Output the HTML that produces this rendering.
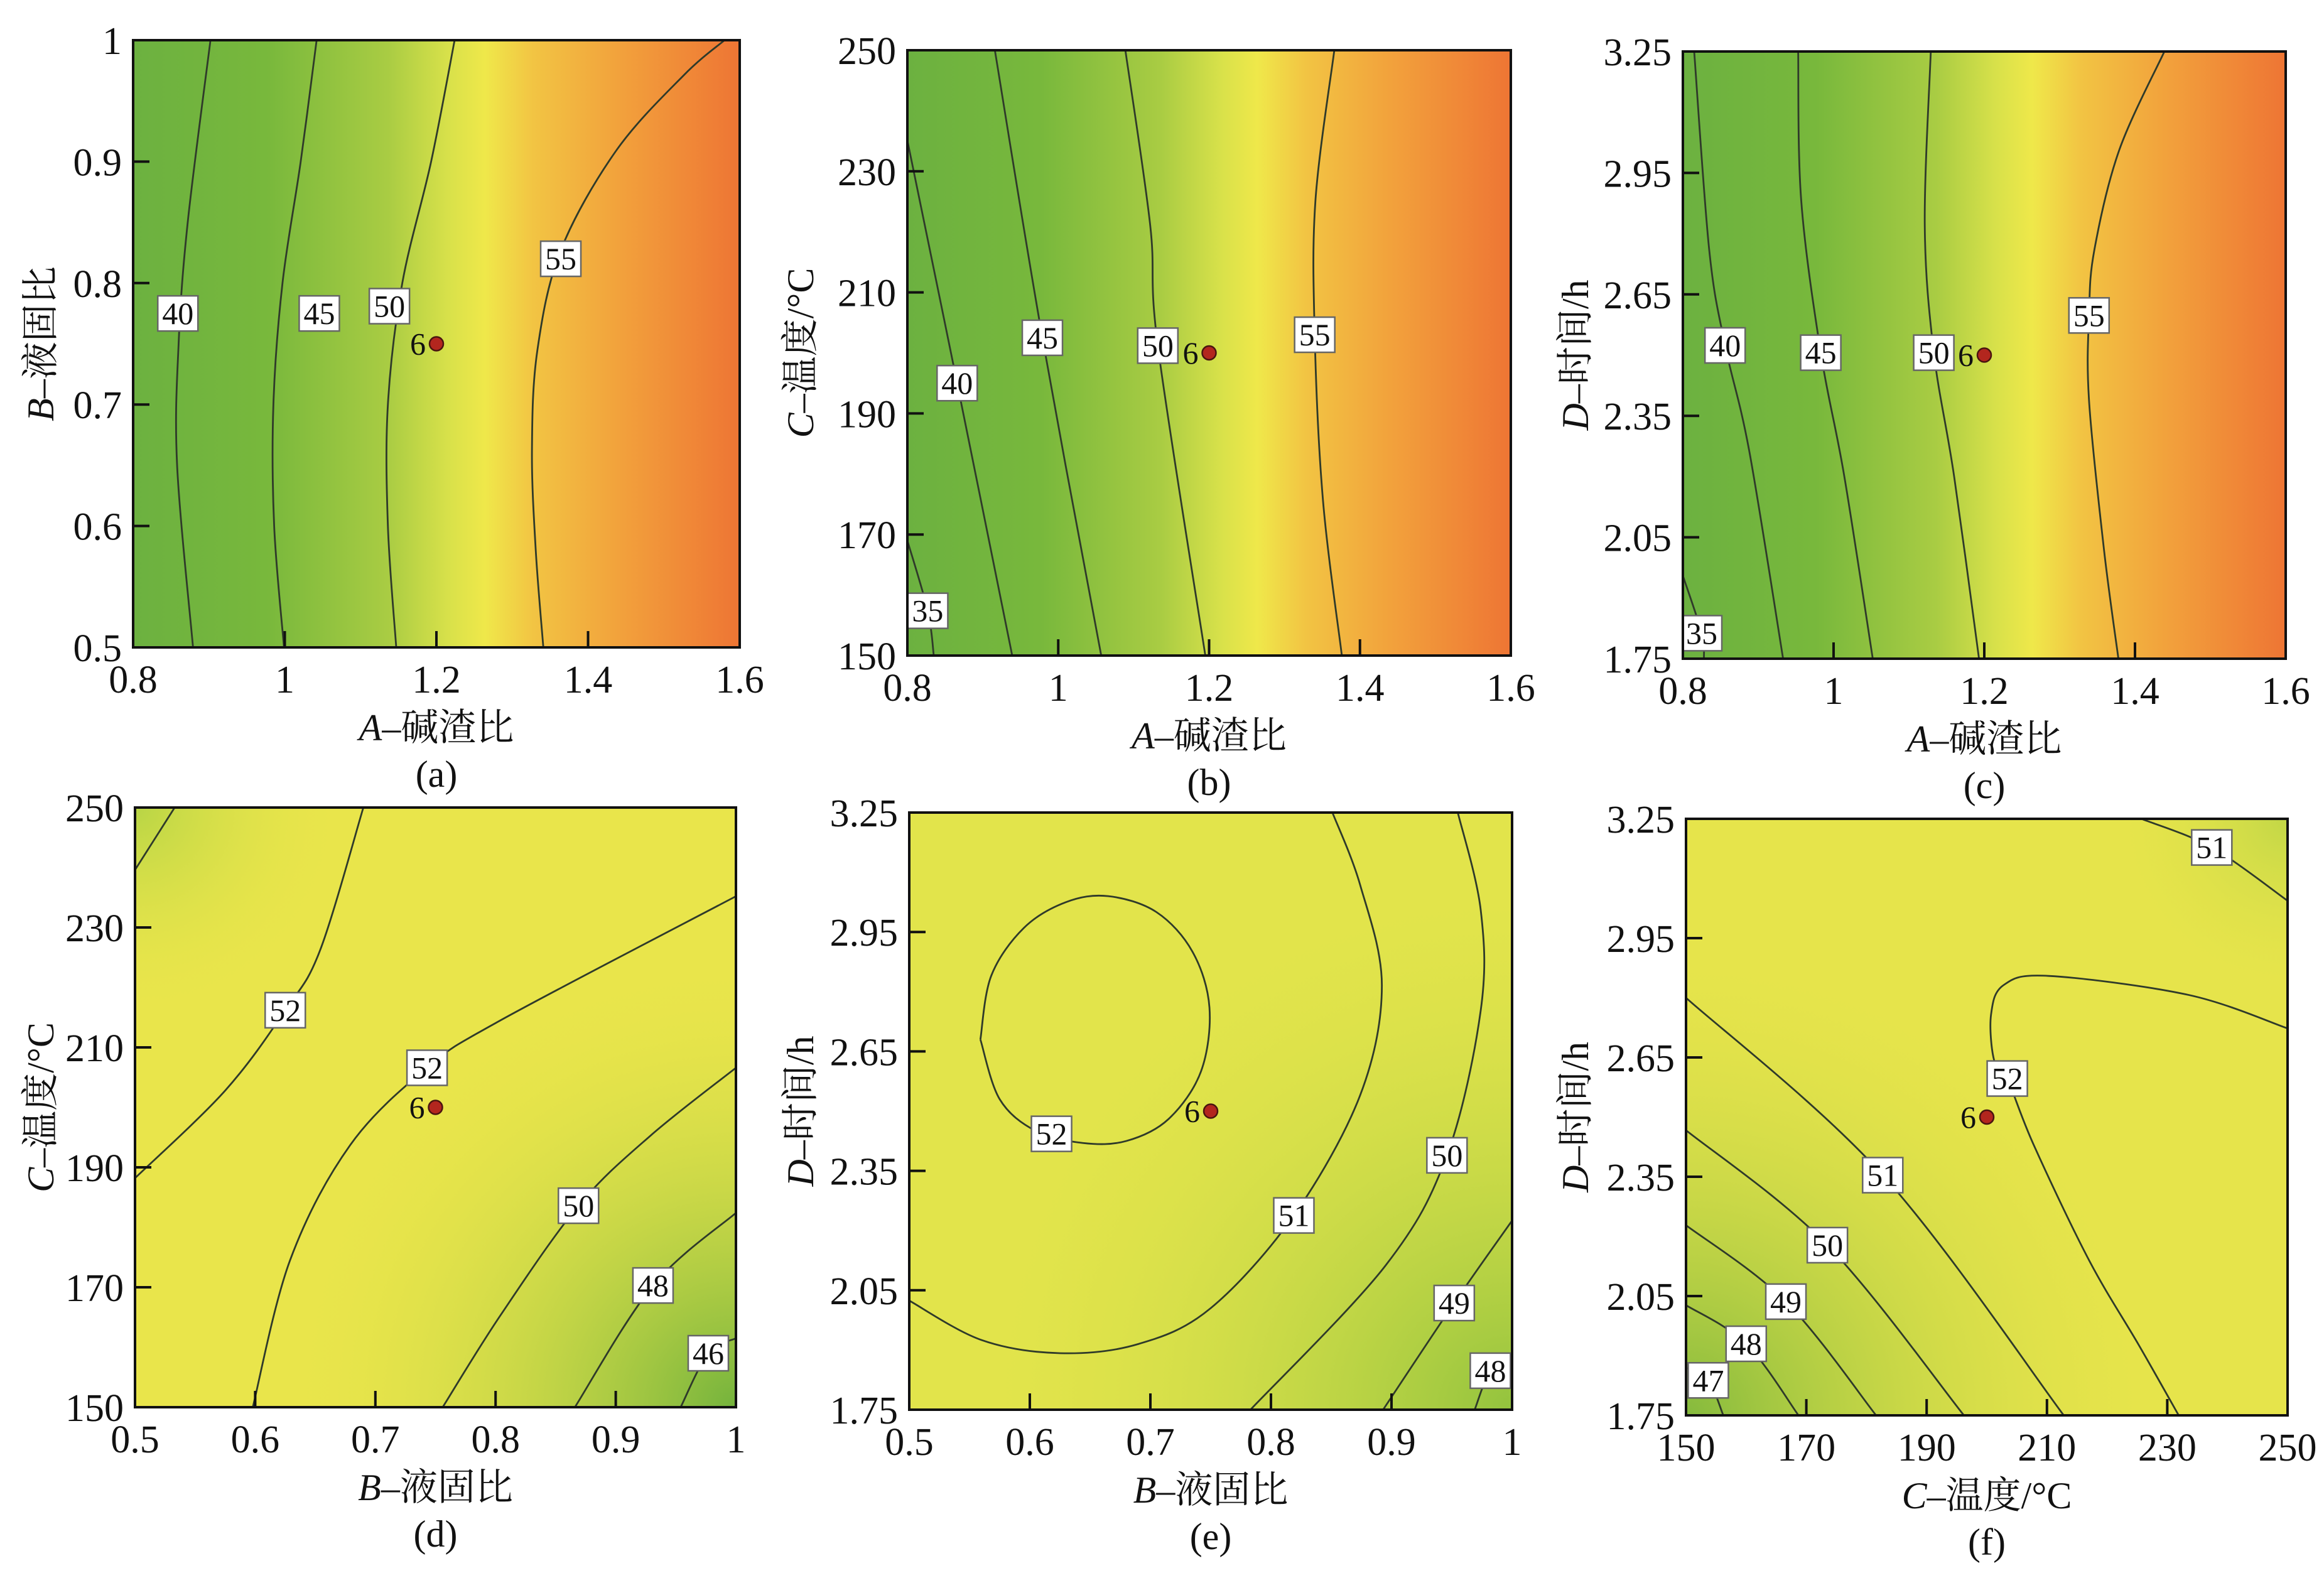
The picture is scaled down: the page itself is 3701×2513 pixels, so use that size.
<!DOCTYPE html>
<html><head><meta charset="utf-8">
<style>
html,body{margin:0;padding:0;background:#fff;}
svg{display:block;}
svg text{font-family:"Liberation Serif","Noto Serif CJK SC","Noto Sans CJK SC",serif;fill:#111;}
</style></head>
<body>
<svg id="fig" width="3701" height="2513" viewBox="0 0 3701 2513" xmlns="http://www.w3.org/2000/svg" font-family="'Liberation Serif','Noto Serif CJK SC',serif">
<defs>
<linearGradient id="gABC" x1="0" y1="0" x2="1" y2="0">
<stop offset="0" stop-color="#6cb140"/><stop offset="0.22" stop-color="#78b83c"/>
<stop offset="0.42" stop-color="#a9cc43"/><stop offset="0.52" stop-color="#d8e14a"/>
<stop offset="0.58" stop-color="#efe84a"/><stop offset="0.66" stop-color="#f2c443"/>
<stop offset="0.8" stop-color="#f2a23c"/><stop offset="1" stop-color="#ee7534"/>
</linearGradient>
<radialGradient id="gD1" cx="1" cy="1" r="0.75"><stop offset="0" stop-color="#74b33c"/><stop offset="1" stop-color="#e9e54b" stop-opacity="0"/></radialGradient>
<radialGradient id="gD2" cx="0" cy="0" r="0.35"><stop offset="0" stop-color="#b8d545"/><stop offset="1" stop-color="#e9e54b" stop-opacity="0"/></radialGradient>
<radialGradient id="gE1" cx="1" cy="1" r="0.9"><stop offset="0" stop-color="#93c33e"/><stop offset="1" stop-color="#dfe34b" stop-opacity="0"/></radialGradient>
<radialGradient id="gF1" cx="0" cy="1" r="0.8"><stop offset="0" stop-color="#85ba3d"/><stop offset="1" stop-color="#e6e44b" stop-opacity="0"/></radialGradient>
<radialGradient id="gF2" cx="1" cy="0" r="0.3"><stop offset="0" stop-color="#c2d746"/><stop offset="1" stop-color="#e6e44b" stop-opacity="0"/></radialGradient>
</defs>
</svg>
<script>
// ---------- data ----------
const panelIds = ["a","b","c","d","e","f"];
const xTicksA = [0.8,1,1.2,1.4,1.6];
const xTickLabelsA = ["0.8","1","1.2","1.4","1.6"];
const xTicksB = [0.5,0.6,0.7,0.8,0.9,1];
const xTickLabelsB = ["0.5","0.6","0.7","0.8","0.9","1"];
const xTicksC = [150,170,190,210,230,250];
const xTickLabelsC = ["150","170","190","210","230","250"];
const yTicksB = [0.5,0.6,0.7,0.8,0.9,1];
const yTickLabelsB = ["0.5","0.6","0.7","0.8","0.9","1"];
const yTicksC = [150,170,190,210,230,250];
const yTickLabelsC = ["150","170","190","210","230","250"];
const yTicksD = [1.75,2.05,2.35,2.65,2.95,3.25];
const yTickLabelsD = ["1.75","2.05","2.35","2.65","2.95","3.25"];

const contoursA = [
 [[0.902,1],[0.872,0.85],[0.86,0.75],[0.858,0.65],[0.879,0.5]],
 [[1.042,1],[1.021,0.9],[0.997,0.8],[0.985,0.7],[0.986,0.6],[0.999,0.5]],
 [[1.224,1],[1.193,0.9],[1.155,0.8],[1.136,0.7],[1.136,0.6],[1.147,0.5]],
 [[1.58,1],[1.526,0.971],[1.437,0.909],[1.364,0.827],[1.333,0.744],[1.326,0.662],[1.331,0.58],[1.341,0.5]]
];
const labelsA = [[40,0.859,0.775],[45,1.0455,0.775],[50,1.138,0.781],[55,1.364,0.82]];
const contoursB = [
 [[0.8,169],[0.827,157.4],[0.835,150]],
 [[0.8,235.1],[0.866,195],[0.939,150]],
 [[0.916,250],[0.979,202.5],[1.057,150]],
 [[1.089,250],[1.122,221],[1.132,201.2],[1.195,150]],
 [[1.366,250],[1.341,225.2],[1.34,203],[1.351,175.6],[1.376,150]]
];
const labelsB = [[35,0.827,157.4],[40,0.866,195],[45,0.979,202.5],[50,1.132,201.2],[55,1.34,203]];
const contoursC = [
 [[0.8,1.955],[0.825,1.813],[0.828,1.75]],
 [[0.815,3.25],[0.835,2.759],[0.856,2.524],[0.888,2.264],[0.933,1.75]],
 [[0.953,3.25],[0.957,2.883],[0.983,2.506],[1.014,2.203],[1.052,1.75]],
 [[1.129,3.25],[1.121,2.821],[1.133,2.506],[1.16,2.2],[1.193,1.75]],
 [[1.439,3.25],[1.379,3.006],[1.346,2.759],[1.339,2.598],[1.339,2.388],[1.359,2.017],[1.378,1.75]]
];
const labelsC = [[35,0.825,1.813],[40,0.856,2.524],[45,0.983,2.506],[50,1.133,2.506],[55,1.339,2.598]];
const contoursD = [
 [[0.5,239.6],[0.533,250]],
 [[0.69,250],[0.654,226.2],[0.625,216.2],[0.575,202.8],[0.5,188.2]],
 [[0.598,150],[0.629,174.5],[0.679,193.7],[0.743,206.6],[0.804,214.5],[1,235.2]],
 [[0.756,150],[0.804,165.3],[0.869,183.6],[0.929,195.3],[1,206.6]],
 [[0.866,150],[0.931,170.3],[1,182.4]],
 [[0.954,150],[0.977,159],[1,161.5]]
];
const labelsD = [[52,0.625,216.2],[52,0.743,206.6],[50,0.869,183.6],[48,0.931,170.3],[46,0.977,159]];
const contoursE = [
 [[0.559,2.68],[0.568,2.84],[0.595,2.96],[0.63,3.025],[0.665,3.04],[0.705,3.0],[0.735,2.9],[0.749,2.76],[0.742,2.6],[0.715,2.48],[0.68,2.425],[0.644,2.42],[0.605,2.45],[0.575,2.53],[0.559,2.68]],
 [[0.5,2.024],[0.56,1.925],[0.625,1.892],[0.69,1.915],[0.75,2.005],[0.819,2.238],[0.874,2.54],[0.892,2.816],[0.874,3.068],[0.851,3.25]],
 [[0.955,3.25],[0.974,3.005],[0.974,2.753],[0.946,2.389],[0.895,2.112],[0.783,1.75]],
 [[1,2.225],[0.952,2.018],[0.893,1.75]],
 [[1,1.886],[0.982,1.848],[0.969,1.75]]
];
const labelsE = [[52,0.618,2.443],[51,0.819,2.238],[50,0.946,2.389],[49,0.952,2.018],[48,0.982,1.848]];
const contoursF = [
 [[225.7,3.25],[237.4,3.178],[250,3.044]],
 [[250,2.723],[233.6,2.807],[210.3,2.855],[202.8,2.832],[200.7,2.757],[201.2,2.644],[203.4,2.597],[207.8,2.43],[217,2.14],[225.3,1.926],[231.9,1.75]],
 [[150,2.8],[182.7,2.354],[212.8,1.75]],
 [[150,2.467],[173.5,2.178],[196.2,1.75]],
 [[150,2.228],[166.6,2.036],[181.6,1.75]],
 [[150,2.027],[160,1.93],[168.7,1.75]],
 [[150,1.87],[153.7,1.838],[156.2,1.75]]
];
const labelsF = [[51,237.4,3.178],[52,203.4,2.597],[51,182.7,2.354],[50,173.5,2.178],[49,166.6,2.036],[48,160,1.93],[47,153.7,1.838]];
const pointX = [1.2,1.2,1.2,0.75,0.75,200];
const pointY = [0.75,200,2.5,200,2.5,2.5];

const NS="http://www.w3.org/2000/svg";
const FONT="'Liberation Serif','Noto Serif CJK SC',serif";
const svg=document.getElementById('fig');
const panels=[
 {id:"a",L:212,R:1178,T:64,B:1031,xd:[0.8,1.6],yd:[0.5,1],xt:xTicksA,xl:xTickLabelsA,yt:yTicksB,yl:yTickLabelsB,xv:"A",xn:"–碱渣比",yv:"B",yn:"–液固比",ytx:64,c:contoursA,lb:labelsA,bg:["url(#gABC)"]},
 {id:"b",L:1445,R:2406,T:80,B:1044,xd:[0.8,1.6],yd:[150,250],xt:xTicksA,xl:xTickLabelsA,yt:yTicksC,yl:yTickLabelsC,xv:"A",xn:"–碱渣比",yv:"C",yn:"–温度/°C",ytx:1274,c:contoursB,lb:labelsB,bg:["url(#gABC)"]},
 {id:"c",L:2680,R:3640,T:82,B:1049,xd:[0.8,1.6],yd:[1.75,3.25],xt:xTicksA,xl:xTickLabelsA,yt:yTicksD,yl:yTickLabelsD,xv:"A",xn:"–碱渣比",yv:"D",yn:"–时间/h",ytx:2508,c:contoursC,lb:labelsC,bg:["url(#gABC)"]},
 {id:"d",L:215,R:1172,T:1286,B:2241,xd:[0.5,1],yd:[150,250],xt:xTicksB,xl:xTickLabelsB,yt:yTicksC,yl:yTickLabelsC,xv:"B",xn:"–液固比",yv:"C",yn:"–温度/°C",ytx:64,c:contoursD,lb:labelsD,bg:["#e9e54b","url(#gD1)","url(#gD2)"]},
 {id:"e",L:1448,R:2408,T:1294,B:2245,xd:[0.5,1],yd:[1.75,3.25],xt:xTicksB,xl:xTickLabelsB,yt:yTicksD,yl:yTickLabelsD,xv:"B",xn:"–液固比",yv:"D",yn:"–时间/h",ytx:1274,c:contoursE,lb:labelsE,bg:["#e2e44b","url(#gE1)"]},
 {id:"f",L:2685,R:3643,T:1304,B:2254,xd:[150,250],yd:[1.75,3.25],xt:xTicksC,xl:xTickLabelsC,yt:yTicksD,yl:yTickLabelsD,xv:"C",xn:"–温度/°C",yv:"D",yn:"–时间/h",ytx:2508,c:contoursF,lb:labelsF,bg:["#e6e44b","url(#gF1)","url(#gF2)"]}
];
function mk(tag,attrs,parent){const e=document.createElementNS(NS,tag);for(const k in attrs)e.setAttribute(k,attrs[k]);if(tag==='text')e.setAttribute('font-family',FONT);(parent||svg).appendChild(e);return e;}
function smooth(pts){
 if(pts.length<3)return "M"+pts.map(p=>p.join(",")).join("L");
 let d="M"+pts[0][0]+","+pts[0][1];
 for(let i=0;i<pts.length-1;i++){
  const p0=pts[i-1]||pts[i],p1=pts[i],p2=pts[i+1],p3=pts[i+2]||p2;
  const c1=[p1[0]+(p2[0]-p0[0])/6,p1[1]+(p2[1]-p0[1])/6];
  const c2=[p2[0]-(p3[0]-p1[0])/6,p2[1]-(p3[1]-p1[1])/6];
  d+="C"+c1.join(",")+" "+c2.join(",")+" "+p2.join(",");
 }
 return d;
}
panels.forEach((p,pi)=>{
 const sx=v=>p.L+(v-p.xd[0])/(p.xd[1]-p.xd[0])*(p.R-p.L);
 const sy=v=>p.B-(v-p.yd[0])/(p.yd[1]-p.yd[0])*(p.B-p.T);
 const g=mk('g',{});
 
 
 const cp=mk('clipPath',{id:'clip'+p.id},g);
 mk('rect',{x:p.L,y:p.T,width:p.R-p.L,height:p.B-p.T},cp);
 p.bg.forEach(f=>{
  const r=mk('rect',{x:p.L,y:p.T,width:p.R-p.L,height:p.B-p.T,fill:f},g);
  
  
 });
 const cg=mk('g',{'clip-path':'url(#clip'+p.id+')'},g);
 p.c.forEach(line=>{
  const path=mk('path',{d:smooth(line.map(q=>[sx(q[0]),sy(q[1])])),fill:'none',stroke:'#2f3a2a','stroke-width':2.8},cg);
  
  
 });
 p.lb.forEach(l=>{
  const cx=sx(l[1]),cy=sy(l[2]);
  const lg=mk('g',{},cg);
  
  
  mk('rect',{x:cx-32,y:cy-28,width:64,height:56,fill:'#fff',stroke:'#666','stroke-width':2.5},lg);
  const t=mk('text',{x:cx,y:cy+17,'text-anchor':'middle','font-size':50},lg);
  t.textContent=String(l[0]);
 });
 const px=sx(pointX[pi]),py=sy(pointY[pi]);
 const pt=mk('circle',{cx:px,cy:py,r:11,fill:'#b3261e',stroke:'#4a1410','stroke-width':2.5},g);
 
 
 const pl=mk('text',{x:px-17,y:py+17,'text-anchor':'end','font-size':50},g);
 
 
 pl.textContent='6';
 const fr=mk('rect',{x:p.L,y:p.T,width:p.R-p.L,height:p.B-p.T,fill:'none',stroke:'#111','stroke-width':4},g);
 
 
 p.xt.forEach((v,i)=>{
  const x=sx(v);
  if(i>0&&i<p.xt.length-1)mk('line',{x1:x,y1:p.B,x2:x,y2:p.B-26,stroke:'#111','stroke-width':4},g);
  const t=mk('text',{x:x,y:p.B+72,'text-anchor':'middle','font-size':62},g);
  
  
  t.textContent=p.xl[i];
 });
 p.yt.forEach((v,i)=>{
  const y=sy(v);
  if(i>0&&i<p.yt.length-1)mk('line',{x1:p.L,y1:y,x2:p.L+26,y2:y,stroke:'#111','stroke-width':4},g);
  const t=mk('text',{x:p.L-18,y:y+22,'text-anchor':'end','font-size':62},g);
  
  
  t.textContent=p.yl[i];
 });
 const xt=mk('text',{x:(p.L+p.R)/2,y:p.B+148,'text-anchor':'middle','font-size':60},g);
 
 
 xt.innerHTML='<tspan font-style="italic">'+p.xv+'</tspan>'+p.xn;
 const yc=(p.T+p.B)/2;
 const yt=mk('text',{x:p.ytx,y:yc,'text-anchor':'middle','font-size':60,transform:'rotate(-90 '+p.ytx+' '+yc+') translate(0 21)'},g);
 
 
 yt.innerHTML='<tspan font-style="italic">'+p.yv+'</tspan>'+p.yn;
 const pt2=mk('text',{x:(p.L+p.R)/2,y:p.B+222,'text-anchor':'middle','font-size':60},g);
 
 
 pt2.textContent='('+p.id+')';
});
</script>
</body></html>
